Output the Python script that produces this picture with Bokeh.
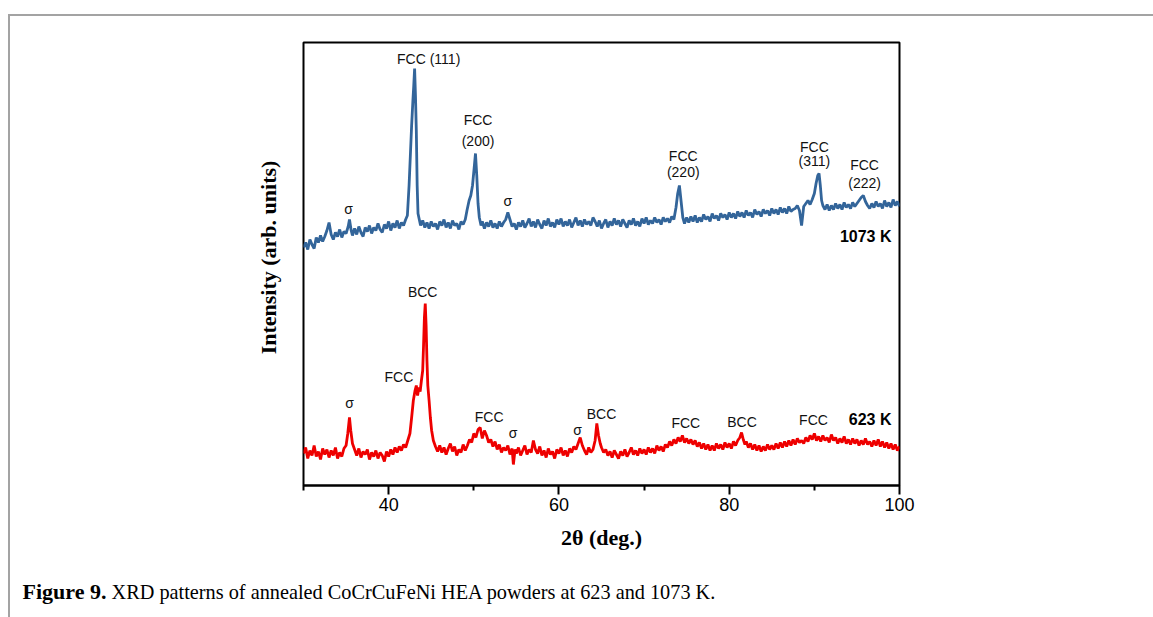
from bokeh.plotting import figure
from bokeh.models import FixedTicker, Label, ColumnDataSource, Range1d
from bokeh.embed import file_html
from bokeh.resources import INLINE
from bokeh.core.properties import value

# ---------------- data (2theta in deg, intensity in arb. units) ----------------
tt_1073 = [30.00, 30.25, 30.50, 30.75, 31.00, 31.25, 31.50, 31.75, 32.00, 32.25, 32.50, 32.75,
           33.00, 33.25, 33.50, 33.75, 34.00, 34.25, 34.50, 34.75, 35.00, 35.25, 35.40, 35.60,
           35.75, 36.00, 36.25, 36.50, 36.75, 37.00, 37.25, 37.50, 37.75, 38.00, 38.25, 38.50,
           38.75, 39.00, 39.25, 39.50, 39.75, 40.00, 40.25, 40.50, 40.75, 41.00, 41.25, 41.50,
           41.75, 42.00, 42.20, 42.40, 42.55, 42.70, 42.85, 42.95, 43.05, 43.15, 43.25, 43.35,
           43.45, 43.60, 43.75, 44.00, 44.25, 44.50, 44.75, 45.00, 45.25, 45.50, 45.75, 46.00,
           46.25, 46.50, 46.75, 47.00, 47.25, 47.50, 47.75, 48.00, 48.25, 48.50, 48.75, 49.00,
           49.20, 49.45, 49.65, 49.85, 50.05, 50.20, 50.35, 50.50, 50.65, 50.85, 51.00, 51.25,
           51.50, 51.75, 52.00, 52.25, 52.50, 52.75, 53.00, 53.25, 53.50, 53.75, 54.00, 54.25,
           54.50, 54.75, 55.00, 55.25, 55.50, 55.75, 56.00, 56.25, 56.50, 56.75, 57.00, 57.25,
           57.50, 57.75, 58.00, 58.25, 58.50, 58.75, 59.00, 59.25, 59.50, 59.75, 60.00, 60.25,
           60.50, 60.75, 61.00, 61.25, 61.50, 61.75, 62.00, 62.25, 62.50, 62.75, 63.00, 63.25,
           63.50, 63.75, 64.00, 64.25, 64.50, 64.75, 65.00, 65.25, 65.50, 65.75, 66.00, 66.25,
           66.50, 66.75, 67.00, 67.25, 67.50, 67.75, 68.00, 68.25, 68.50, 68.75, 69.00, 69.25,
           69.50, 69.75, 70.00, 70.25, 70.50, 70.75, 71.00, 71.25, 71.50, 71.75, 72.00, 72.25,
           72.50, 72.75, 73.00, 73.25, 73.50, 73.75, 73.95, 74.15, 74.35, 74.55, 74.75, 75.00,
           75.25, 75.50, 75.75, 76.00, 76.25, 76.50, 76.75, 77.00, 77.25, 77.50, 77.75, 78.00,
           78.25, 78.50, 78.75, 79.00, 79.25, 79.50, 79.75, 80.00, 80.25, 80.50, 80.75, 81.00,
           81.25, 81.50, 81.75, 82.00, 82.25, 82.50, 82.75, 83.00, 83.25, 83.50, 83.75, 84.00,
           84.25, 84.50, 84.75, 85.00, 85.25, 85.50, 85.75, 86.00, 86.25, 86.50, 86.75, 87.00,
           87.25, 87.50, 87.75, 88.00, 88.25, 88.50, 88.75, 89.00, 89.25, 89.50, 89.75, 90.00,
           90.20, 90.40, 90.55, 90.70, 90.85, 91.00, 91.25, 91.50, 91.75, 92.00, 92.25, 92.50,
           92.75, 93.00, 93.25, 93.50, 93.75, 94.00, 94.25, 94.50, 94.75, 95.00, 95.25, 95.50,
           95.75, 96.00, 96.25, 96.50, 96.75, 97.00, 97.25, 97.50, 97.75, 98.00, 98.25, 98.50,
           98.75, 99.00, 99.25, 99.50, 99.75, 100.00]
int_1073 = [238, 243, 236, 246, 241, 237, 248, 243, 250, 244, 249, 255,
            263, 251, 246, 253, 249, 256, 248, 254, 252, 259, 266, 255,
            250, 257, 251, 259, 253, 249, 258, 254, 260, 252, 258, 255,
            262, 256, 253, 261, 257, 264, 255, 262, 258, 265, 257, 263,
            260, 266, 270, 300, 330, 360, 385, 400, 417, 390, 355, 300,
            272, 266, 260, 265, 258, 263, 257, 264, 259, 262, 256, 264,
            260, 266, 258, 263, 257, 265, 260, 262, 256, 264, 261, 266,
            275, 285, 290, 300, 318, 332, 310, 282, 268, 260, 264, 257,
            263, 259, 265, 258, 262, 257, 264, 259, 263, 266, 273, 266,
            259, 262, 256, 263, 259, 265, 258, 262, 267, 259, 264, 258,
            266, 261, 257, 265, 260, 267, 259, 263, 258, 266, 261, 267,
            259, 264, 260, 266, 258, 263, 268, 260, 265, 259, 266, 261,
            264, 260, 268, 264, 259, 265, 257, 262, 266, 258, 264, 260,
            267, 261, 265, 259, 266, 262, 258, 265, 261, 267, 260, 264,
            259, 267, 262, 268, 261, 265, 262, 268, 263, 266, 261, 268,
            264, 267, 263, 269, 266, 278, 292, 300, 284, 268, 262, 268,
            263, 269, 264, 270, 263, 268, 264, 271, 266, 269, 264, 272,
            267, 270, 265, 272, 268, 271, 266, 273, 268, 272, 267, 274,
            269, 273, 268, 275, 270, 273, 268, 276, 271, 274, 269, 276,
            272, 275, 270, 277, 272, 276, 271, 278, 273, 277, 272, 279,
            274, 276, 277, 280, 275, 260, 279, 282, 285, 281, 286, 292,
            302, 310, 312, 300, 285, 280, 276, 281, 275, 280, 276, 282,
            277, 281, 276, 283, 278, 281, 277, 283, 279, 282, 285, 288,
            290, 284, 280, 277, 282, 278, 284, 279, 282, 277, 285, 279,
            283, 278, 286, 280, 284, 279]

tt_623 = [30.00, 30.25, 30.50, 30.75, 31.00, 31.25, 31.50, 31.75, 32.00, 32.25, 32.50, 32.75,
          33.00, 33.25, 33.50, 33.75, 34.00, 34.25, 34.50, 34.75, 35.00, 35.20, 35.40, 35.55,
          35.75, 36.00, 36.25, 36.50, 36.75, 37.00, 37.25, 37.50, 37.75, 38.00, 38.25, 38.50,
          38.75, 39.00, 39.25, 39.50, 39.75, 40.00, 40.25, 40.50, 40.75, 41.00, 41.25, 41.50,
          41.75, 42.00, 42.25, 42.50, 42.70, 42.90, 43.10, 43.25, 43.40, 43.55, 43.70, 43.85,
          44.00, 44.10, 44.20, 44.30, 44.40, 44.50, 44.60, 44.75, 44.90, 45.05, 45.25, 45.50,
          45.75, 46.00, 46.25, 46.50, 46.75, 47.00, 47.25, 47.50, 47.75, 48.00, 48.25, 48.50,
          48.75, 49.00, 49.25, 49.50, 49.75, 50.00, 50.25, 50.50, 50.75, 51.00, 51.25, 51.50,
          51.75, 52.00, 52.25, 52.50, 52.75, 53.00, 53.25, 53.50, 53.75, 54.00, 54.25, 54.50,
          54.65, 54.85, 55.00, 55.25, 55.50, 55.75, 56.00, 56.25, 56.50, 56.75, 57.00, 57.25,
          57.50, 57.75, 58.00, 58.25, 58.50, 58.75, 59.00, 59.25, 59.50, 59.75, 60.00, 60.25,
          60.50, 60.75, 61.00, 61.25, 61.50, 61.75, 62.00, 62.25, 62.50, 62.75, 63.00, 63.25,
          63.50, 63.75, 64.00, 64.25, 64.45, 64.65, 64.85, 65.00, 65.25, 65.50, 65.75, 66.00,
          66.25, 66.50, 66.75, 67.00, 67.25, 67.50, 67.75, 68.00, 68.25, 68.50, 68.75, 69.00,
          69.25, 69.50, 69.75, 70.00, 70.25, 70.50, 70.75, 71.00, 71.25, 71.50, 71.75, 72.00,
          72.25, 72.50, 72.75, 73.00, 73.25, 73.50, 73.75, 74.00, 74.25, 74.50, 74.75, 75.00,
          75.25, 75.50, 75.75, 76.00, 76.25, 76.50, 76.75, 77.00, 77.25, 77.50, 77.75, 78.00,
          78.25, 78.50, 78.75, 79.00, 79.25, 79.50, 79.75, 80.00, 80.25, 80.50, 80.75, 81.00,
          81.25, 81.45, 81.65, 81.85, 82.00, 82.25, 82.50, 82.75, 83.00, 83.25, 83.50, 83.75,
          84.00, 84.25, 84.50, 84.75, 85.00, 85.25, 85.50, 85.75, 86.00, 86.25, 86.50, 86.75,
          87.00, 87.25, 87.50, 87.75, 88.00, 88.25, 88.50, 88.75, 89.00, 89.25, 89.50, 89.75,
          90.00, 90.25, 90.50, 90.75, 91.00, 91.25, 91.50, 91.75, 92.00, 92.25, 92.50, 92.75,
          93.00, 93.25, 93.50, 93.75, 94.00, 94.25, 94.50, 94.75, 95.00, 95.25, 95.50, 95.75,
          96.00, 96.25, 96.50, 96.75, 97.00, 97.25, 97.50, 97.75, 98.00, 98.25, 98.50, 98.75,
          99.00, 99.25, 99.50, 99.75, 100.00]
int_623 = [32, 38, 27, 35, 30, 40, 29, 34, 26, 37, 31, 36,
           28, 35, 30, 38, 27, 33, 29, 37, 40, 52, 68, 55,
           42, 36, 30, 37, 28, 34, 31, 36, 26, 33, 29, 35,
           27, 33, 30, 24, 34, 29, 36, 31, 38, 33, 39, 35,
           41, 38, 45, 52, 68, 85, 95, 100, 90, 98, 94, 105,
           115, 140, 168, 182, 160, 125, 100, 85, 68, 55, 45, 39,
           34, 40, 33, 38, 31, 37, 42, 34, 39, 30, 36, 33,
           41, 35, 40, 46, 43, 52, 48, 56, 58, 47, 55, 50,
           43, 46, 39, 44, 36, 41, 33, 38, 35, 40, 31, 37,
           21, 36, 32, 38, 30, 35, 40, 31, 36, 33, 45, 36,
           32, 39, 30, 35, 28, 37, 31, 34, 27, 36, 32, 38,
           30, 35, 29, 37, 33, 39, 36, 42, 48, 40, 35, 31,
           38, 33, 36, 45, 62, 50, 42, 38, 33, 36, 30, 34,
           28, 35, 31, 27, 34, 30, 36, 29, 33, 38, 31, 35,
           30, 37, 32, 36, 31, 38, 33, 37, 32, 40, 35, 39,
           34, 41, 38, 44, 40, 46, 42, 48, 44, 50, 43, 47,
           42, 46, 41, 45, 39, 43, 37, 42, 36, 41, 35, 40,
           35, 42, 37, 41, 36, 43, 38, 42, 37, 44, 40, 45,
           48, 53, 46, 41, 44, 38, 42, 36, 41, 35, 40, 34,
           39, 35, 41, 36, 40, 36, 42, 37, 43, 38, 44, 39,
           45, 40, 46, 41, 47, 43, 45, 42, 48, 44, 50, 46,
           52, 45, 49, 44, 50, 45, 48, 43, 51, 45, 48, 42,
           47, 43, 49, 42, 46, 41, 47, 42, 46, 40, 45, 41,
           47, 41, 44, 39, 45, 40, 46, 39, 44, 38, 43, 37,
           42, 36, 41, 35, 39]

# peak annotations
ann_1073_text = ["σ", "FCC (111)", "FCC", "(200)", "σ", "FCC", "(220)", "FCC", "(311)", "FCC", "(222)"]
ann_1073_x = [35.3, 44.7, 50.5, 50.5, 54.0, 74.6, 74.6, 90.0, 90.0, 95.9, 95.9]
ann_1073_y = [277, 427, 366, 345, 285, 330, 314, 339, 325, 321, 303]

ann_623_text = ["σ", "FCC", "BCC", "FCC", "σ", "σ", "BCC", "FCC", "BCC", "FCC"]
ann_623_x = [35.4, 41.2, 44.0, 51.8, 54.6, 62.2, 65.0, 74.9, 81.5, 89.9]
ann_623_y = [83, 109, 194, 69, 53, 56, 72, 63, 64, 66]

series_names = ["1073 K", "623 K"]
series_name_y = [249, 66]

x_ticks = [40, 60, 80, 100]
x_minor = [30, 50, 70, 90]

# ---------------- figure ----------------
frame_css = (":host::after { content: ''; position: absolute; left: 8px; top: 14px; "
             "width: 1145px; height: 603px; border-top: 2px solid #a3a3a3; "
             "border-left: 2px solid #a3a3a3; pointer-events: none; z-index: 5; }")

p = figure(width=1153, height=617, output_backend="svg", toolbar_location=None,
           x_range=Range1d(30, 100), y_range=Range1d(0, 443),
           min_border_left=303, min_border_right=254, min_border_top=42, min_border_bottom=132)
p.stylesheets = [frame_css]
p.background_fill_color = "white"
p.border_fill_color = "white"
p.grid.visible = False
p.outline_line_color = "black"
p.outline_line_width = 2
p.yaxis.visible = False

ax = p.xaxis[0]
ax.ticker = FixedTicker(ticks=x_ticks, minor_ticks=x_minor)
ax.axis_line_width = 2
ax.axis_line_color = "black"
ax.major_tick_in = 0
ax.major_tick_out = 9
ax.major_tick_line_width = 2
ax.minor_tick_in = 0
ax.minor_tick_out = 5
ax.minor_tick_line_width = 2
ax.major_label_text_font = "Liberation Sans"
ax.major_label_text_font_size = "18px"
ax.major_label_text_color = "black"
ax.major_label_standoff = 3
ax.axis_label = "2θ (deg.)"
ax.axis_label_text_font = "Liberation Serif"
ax.axis_label_text_font_style = "bold"
ax.axis_label_text_font_size = "22px"
ax.axis_label_text_color = "black"
ax.axis_label_standoff = 11

src_hi = ColumnDataSource(dict(x=tt_1073, y=int_1073))
src_lo = ColumnDataSource(dict(x=tt_623, y=int_623))
p.line("x", "y", source=src_hi, line_color="#33659a", line_width=2.8)
p.line("x", "y", source=src_lo, line_color="#ee0000", line_width=2.8)

lab = ColumnDataSource(dict(x=ann_1073_x + ann_623_x, y=ann_1073_y + ann_623_y,
                            t=ann_1073_text + ann_623_text))
p.text("x", "y", text="t", source=lab, text_font=value("Liberation Sans"),
       text_font_size="14px", text_align="center", text_baseline="middle", text_color="#111111")

nm = ColumnDataSource(dict(x=[99.06, 99.06], y=series_name_y, t=series_names))
p.text("x", "y", text="t", source=nm, text_font=value("Liberation Sans"), text_font_style="bold",
       text_font_size="16px", text_align="right", text_baseline="middle", text_color="black")

# y-axis title (the original has no y ticks)
p.add_layout(Label(x=268, y=257, x_units="canvas", y_units="canvas", text="Intensity (arb. units)",
                   angle=90, angle_units="deg", text_align="center", text_baseline="middle",
                   text_font="Liberation Serif", text_font_style="bold", text_font_size="22px",
                   text_color="black"), "left")

# caption below the chart
p.add_layout(Label(x=22, y=591, x_units="canvas", y_units="canvas", text="Figure 9.",
                   text_font="Liberation Serif", text_font_style="bold", text_font_size="22px",
                   text_baseline="alphabetic", text_align="left", text_color="black"), "below")
p.add_layout(Label(x=111, y=591, x_units="canvas", y_units="canvas",
                   text="XRD patterns of annealed CoCrCuFeNi HEA powders at 623 and 1073 K.",
                   text_font="Liberation Serif", text_font_size="20.3px",
                   text_baseline="alphabetic", text_align="left", text_color="black"), "below")

open("out.html", "w").write(file_html(p, INLINE))
